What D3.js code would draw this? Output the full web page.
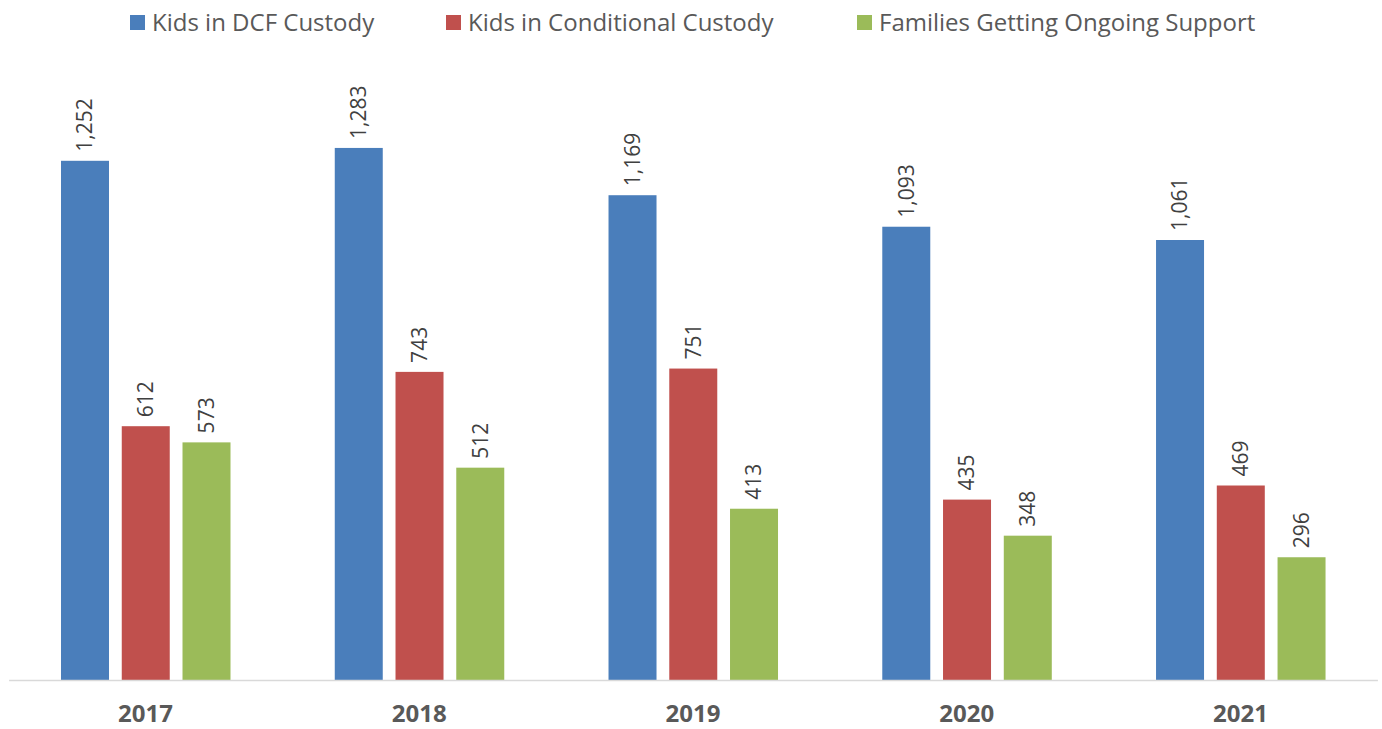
<!DOCTYPE html>
<html>
<head>
<meta charset="utf-8">
<script src="https://cdn.jsdelivr.net/npm/d3@7"></script>
<style>
  body { margin: 0; background: #fff; }
  text { font-family: "Open Sans", "Noto Sans", sans-serif; }
</style>
</head>
<body>
<div class="chart"></div>
<script>
var years = ["2017", "2018", "2019", "2020", "2021"];
var seriesNames = ["Kids in DCF Custody", "Kids in Conditional Custody", "Families Getting Ongoing Support"];
var dcf = [1252, 1283, 1169, 1093, 1061];
var conditional = [612, 743, 751, 435, 469];
var ongoing = [573, 512, 413, 348, 296];
var colors = ["#4a7ebb", "#c0504d", "#9bbb59"];

var width = 1382, height = 729;
var baseY = 680;

var svg = d3.select(".chart").append("svg")
  .attr("width", width).attr("height", height);

// scales
var y = d3.scaleLinear().domain([0, 1400]).range([baseY, baseY - 1400 * 0.4147]);
var x0 = d3.scaleBand().domain(years).range([8.6, 1377.4]).padding(0);
var x1 = d3.scaleBand().domain([0, 1, 2]).range([52.4, 221.9]).paddingInner(0.21).paddingOuter(0);

var rows = years.map(function(yr, i) {
  return { year: yr, vals: [dcf[i], conditional[i], ongoing[i]] };
});

var g = svg.selectAll("g.grp")
  .data(rows)
  .enter().append("g")
  .attr("class", "grp")
  .attr("transform", function(d) { return "translate(" + x0(d.year) + ",0)"; });

g.selectAll("rect")
  .data(function(d) { return d.vals; })
  .enter().append("rect")
  .attr("x", function(d, i) { return x1(i); })
  .attr("y", function(d) { return y(d); })
  .attr("width", x1.bandwidth())
  .attr("height", function(d) { return baseY - y(d); })
  .attr("fill", function(d, i) { return colors[i]; });

// value labels, rotated
g.selectAll("text.val")
  .data(function(d) { return d.vals; })
  .enter().append("text")
  .attr("class", "val")
  .attr("transform", function(d, i) {
    return "translate(" + (x1(i) + x1.bandwidth() / 2) + "," + (y(d) - 9) + ") rotate(-90)";
  })
  .attr("dy", "0.35em")
  .attr("font-size", 21)
  .attr("fill", "#404040")
  .text(function(d) { return d3.format(",")(d); });

// x axis
var xAxis = d3.axisBottom(x0).tickSize(0).tickPadding(0);
var ax = svg.append("g")
  .attr("transform", "translate(0," + baseY + ")")
  .call(xAxis);
ax.select(".domain").attr("stroke", "#d9d9d9").attr("stroke-width", 1.5);
ax.selectAll("text")
  .attr("y", 34)
  .attr("dy", "0.35em")
  .attr("font-size", 24)
  .attr("font-weight", "bold")
  .attr("fill", "#595959")
  .style("font-family", "'Open Sans', sans-serif");

// legend
var legX = [130, 446, 857];
var leg = svg.selectAll("g.leg")
  .data(seriesNames)
  .enter().append("g")
  .attr("class", "leg")
  .attr("transform", function(d, i) { return "translate(" + legX[i] + ",0)"; });
leg.append("rect")
  .attr("x", 0).attr("y", 15)
  .attr("width", 15).attr("height", 15)
  .attr("fill", function(d, i) { return colors[i]; });
leg.append("text")
  .attr("x", 22).attr("y", 23)
  .attr("dy", "0.35em")
  .attr("font-size", 24)
  .attr("fill", "#595959")
  .text(function(d) { return d; });
</script>
</body>
</html>
